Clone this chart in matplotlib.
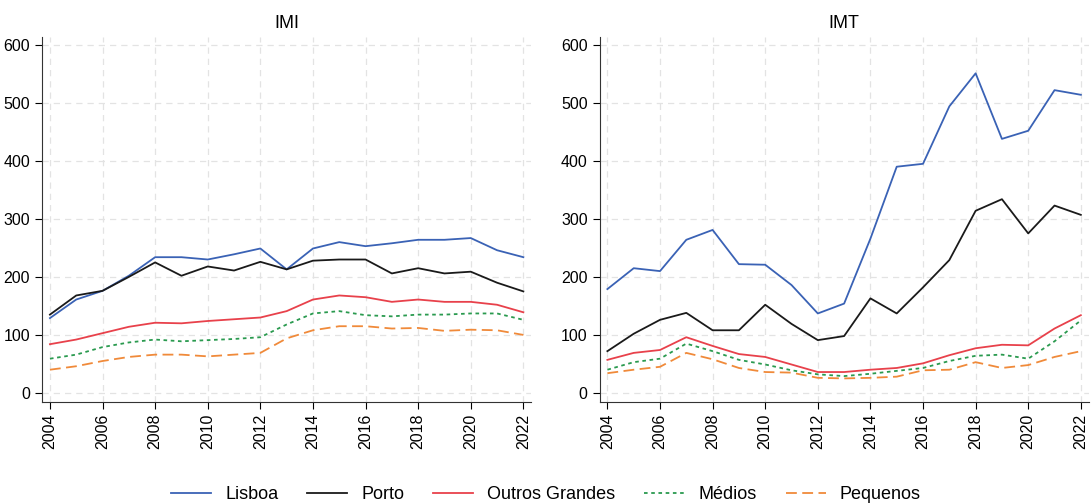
import numpy as np
import matplotlib
matplotlib.use("Agg")
from matplotlib import pyplot as plt

plt.rcParams['font.family'] = ['Liberation Sans', 'DejaVu Sans']

years = list(range(2004, 2023))
series_names = ['Lisboa', 'Porto', 'Outros Grandes', 'Médios', 'Pequenos']

# IMI
imi_lisboa = [130, 162, 177, 203, 235, 235, 231, 240, 250, 214, 250, 261, 254, 259, 265, 265, 268, 247, 235]
imi_porto = [136, 169, 177, 201, 226, 203, 219, 212, 227, 214, 229, 231, 231, 207, 216, 207, 210, 191, 176]
imi_outros = [85, 93, 104, 115, 122, 121, 125, 128, 131, 142, 162, 169, 166, 158, 162, 158, 158, 153, 140]
imi_medios = [60, 67, 80, 88, 93, 90, 92, 94, 97, 119, 138, 142, 135, 133, 136, 136, 138, 138, 127]
imi_pequenos = [41, 47, 56, 63, 67, 67, 64, 67, 70, 95, 109, 116, 116, 112, 113, 108, 110, 109, 101]

# IMT
imt_lisboa = [180, 216, 211, 265, 282, 223, 222, 187, 138, 155, 267, 391, 396, 495, 552, 439, 453, 523, 515]
imt_porto = [73, 103, 127, 139, 109, 109, 153, 120, 92, 99, 164, 138, 183, 230, 315, 335, 276, 324, 308]
imt_outros = [58, 70, 75, 97, 82, 68, 63, 50, 37, 37, 41, 44, 52, 66, 78, 84, 83, 112, 135]
imt_medios = [41, 54, 60, 86, 73, 58, 50, 40, 33, 30, 34, 39, 44, 56, 65, 67, 60, 90, 126]
imt_pequenos = [35, 41, 46, 70, 59, 44, 37, 36, 27, 26, 27, 29, 40, 41, 54, 44, 49, 63, 73]

panels = [
    ('IMI', [imi_lisboa, imi_porto, imi_outros, imi_medios, imi_pequenos]),
    ('IMT', [imt_lisboa, imt_porto, imt_outros, imt_medios, imt_pequenos]),
]

colors = ['#3a62b5', '#1a1a1a', '#e8414b', '#2a9a4f', '#f08a3a']
styles = ['-', '-', '-', (0, (2, 2)), (0, (6, 3))]

fig = plt.figure(figsize=(10.92, 5.04), dpi=100)
lefts = [0.0385, 0.549]
width = 0.448

lines = []
for (title, data), left in zip(panels, lefts):
    ax = fig.add_axes([left, 0.202, width, 0.725])
    for vals, c, ls, name in zip(data, colors, styles, series_names):
        ln, = ax.plot(years, vals, color=c, linestyle=ls, linewidth=1.3, label=name)
        if title == 'IMI':
            lines.append(ln)
    ax.set_xlim(2003.7, 2022.3)
    ax.set_ylim(-15, 615)
    ax.set_xticks(range(2004, 2023, 2))
    ax.set_yticks(range(0, 601, 100))
    ax.tick_params(axis='x', labelrotation=90, labelsize=11.5, length=5)
    ax.tick_params(axis='y', labelsize=11.5, length=5)
    ax.grid(True, color='#e3e3e3', linestyle=(0, (5, 4)), linewidth=0.9)
    ax.set_axisbelow(True)
    ax.spines['top'].set_visible(False)
    ax.spines['right'].set_visible(False)
    ax.spines['left'].set_color('#333333')
    ax.spines['bottom'].set_color('#333333')
    ax.set_title(title, fontsize=13, pad=6)

fig.legend(handles=lines, labels=series_names, loc='lower center',
           bbox_to_anchor=(0.5, -0.03), ncol=5, frameon=False, fontsize=13,
           handlelength=2.2, columnspacing=1.6)

fig.savefig('out.png', dpi=100)
